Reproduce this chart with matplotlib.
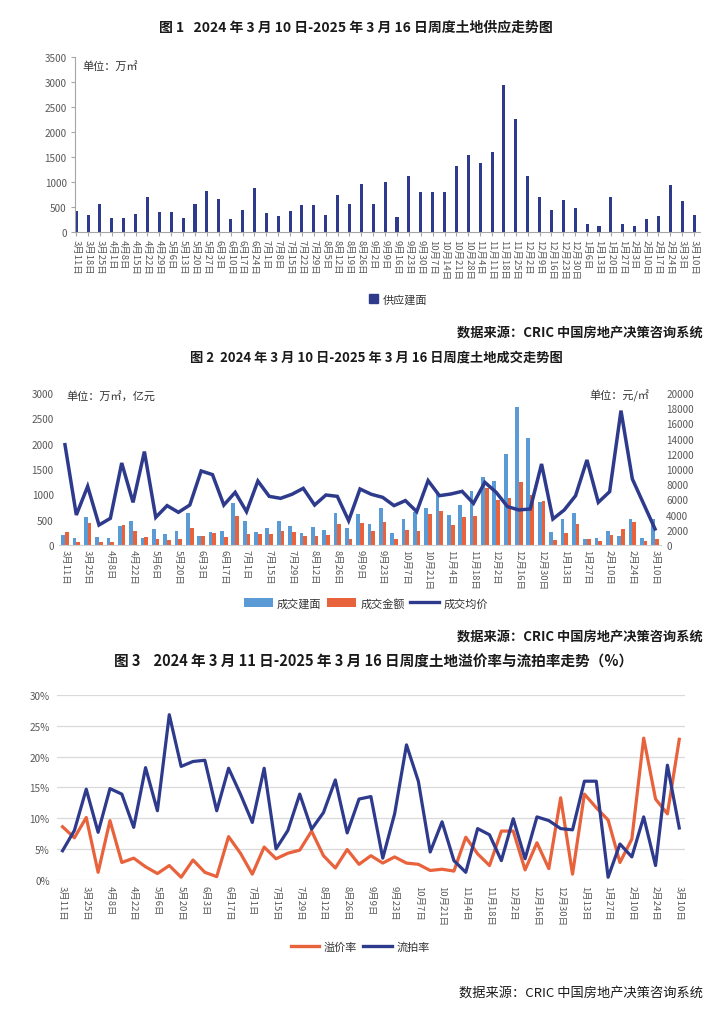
import matplotlib
matplotlib.use("Agg")
import matplotlib.pyplot as plt
from matplotlib.patches import Patch
from matplotlib.lines import Line2D
import numpy as np

plt.rcParams['font.family'] = ['Noto Sans CJK SC', 'DejaVu Sans']
plt.rcParams['axes.unicode_minus'] = False

# ---------------- data ----------------
weeks = ['3月11日', '3月18日', '3月25日', '4月1日', '4月8日', '4月15日', '4月22日', '4月29日',
         '5月6日', '5月13日', '5月20日', '5月27日', '6月3日', '6月10日', '6月17日', '6月24日',
         '7月1日', '7月8日', '7月15日', '7月22日', '7月29日', '8月5日', '8月12日', '8月19日',
         '8月26日', '9月2日', '9月9日', '9月16日', '9月23日', '9月30日', '10月7日', '10月14日',
         '10月21日', '10月28日', '11月4日', '11月11日', '11月18日', '11月25日', '12月2日',
         '12月9日', '12月16日', '12月23日', '12月30日', '1月6日', '1月13日', '1月20日',
         '1月27日', '2月3日', '2月10日', '2月17日', '2月24日', '3月3日', '3月10日']

supply_area = [414, 334, 568, 287, 287, 354, 695, 407, 394, 280, 561, 828, 655, 267, 448, 888,
               387, 327, 414, 541, 534, 334, 748, 568, 962, 568, 995, 294, 1116, 795, 808, 808,
               1316, 1550, 1383, 1610, 2946, 2251, 1129, 701, 448, 641, 474, 167, 114, 701, 160,
               127, 254, 314, 942, 628, 347]

deal_area = [197, 132, 559, 158, 145, 368, 474, 132, 316, 217, 276, 625, 184, 250, 283, 829,
             474, 250, 336, 467, 382, 243, 349, 303, 638, 329, 618, 421, 730, 237, 507, 658,
             730, 1000, 592, 796, 1059, 1349, 1270, 1802, 2718, 2105, 842, 263, 507, 638, 112,
             145, 283, 178, 513, 132, 513]

deal_amount = [250, 59, 428, 59, 59, 388, 270, 164, 118, 105, 118, 329, 184, 237, 158, 579,
               211, 211, 211, 276, 250, 178, 178, 204, 408, 112, 441, 270, 447, 125, 296, 276,
               612, 671, 395, 553, 566, 1119, 888, 928, 1244, 987, 875, 99, 237, 415, 112,
               79, 191, 309, 461, 72, 118]

deal_price = [13200, 3950, 7720, 2630, 3510, 10790, 5610, 12290, 3640, 5180, 4300, 5260, 9740,
              9260, 5260, 6930, 4390, 8420, 6400, 6140, 6670, 7460, 5260, 6580, 6400, 3200,
              7370, 6670, 6270, 5180, 5840, 4390, 8470, 6490, 6710, 7060, 5480, 8250, 6930,
              5050, 4610, 4740, 10660, 3420, 4610, 6490, 11190, 5610, 7020, 17680, 8690, 5400,
              2110]

premium_rate = [8.6, 6.8, 10.1, 1.2, 9.6, 2.8, 3.5, 2.1, 1.0, 2.3, 0.4, 3.2, 1.2, 0.5, 7.0, 4.3,
                0.9, 5.3, 3.4, 4.3, 4.8, 7.9, 3.9, 1.9, 4.9, 2.5, 3.9, 2.7, 3.7, 2.7, 2.5, 1.5,
                1.7, 1.4, 6.9, 4.2, 2.3, 7.9, 7.9, 1.6, 6.0, 1.8, 13.3, 0.9, 13.9, 11.7, 9.7,
                2.8, 6.6, 23.0, 13.1, 10.7, 22.8]

fail_rate = [4.7, 8.0, 14.7, 7.7, 14.8, 13.9, 8.5, 18.2, 11.2, 26.8, 18.4, 19.2, 19.4, 11.2,
             18.1, 13.9, 9.3, 18.1, 5.0, 8.0, 13.9, 8.2, 10.9, 16.2, 7.6, 13.1, 13.5, 3.5,
             10.7, 21.9, 16.0, 4.5, 9.4, 3.1, 1.2, 8.3, 7.3, 3.1, 9.9, 3.4, 10.2, 9.6, 8.3, 8.1,
             16.0, 16.0, 0.4, 5.8, 3.7, 10.2, 2.3, 18.6, 8.4]

title1 = '图 1   2024 年 3 月 10 日-2025 年 3 月 16 日周度土地供应走势图'
title2 = '图 2  2024 年 3 月 10 日-2025 年 3 月 16 日周度土地成交走势图'
title3 = '图 3    2024 年 3 月 11 日-2025 年 3 月 16 日周度土地溢价率与流拍率走势（%）'
source = '数据来源：CRIC 中国房地产决策咨询系统'

# ---------------- styles ----------------
W, H = 720, 1020
NAVY = '#2E3A8C'
LBLUE = '#5B9BD5'
ORANGE = '#E8623C'
TICKC = '#595959'
TXT = '#1a1a1a'
GRID = '#D9D9D9'

fig = plt.figure(figsize=(W / 100, H / 100), dpi=100)
fig.patch.set_facecolor('white')


def box(x0, y0, x1, y1):
    return [x0 / W, 1 - y1 / H, (x1 - x0) / W, (y1 - y0) / H]


def fx(v):
    return v / W


def fy(v):
    return 1 - v / H


x = np.arange(len(weeks))

# ================= Chart 1 =================
fig.text(fx(356), fy(28), title1, ha='center', va='center', fontsize=10,
         fontweight='semibold', color=TXT)

ax1 = fig.add_axes(box(75, 58, 700, 233))
ax1.bar(x, supply_area, width=0.26, color=NAVY)
ax1.set_xlim(-0.1, 52.5)
ax1.set_ylim(0, 3500)
ax1.set_yticks(np.arange(0, 3501, 500))
ax1.set_xticks(x)
ax1.set_xticklabels(weeks, rotation=-90, fontsize=6.8, color=TICKC)
for s in ['top', 'right']:
    ax1.spines[s].set_visible(False)
for s in ['left', 'bottom']:
    ax1.spines[s].set_color('#A6A6A6')
    ax1.spines[s].set_linewidth(0.8)
ax1.tick_params(axis='y', labelsize=7.2, labelcolor=TICKC, color='#A6A6A6', length=3, pad=3)
ax1.tick_params(axis='x', color='#A6A6A6', length=3, pad=2)
ax1.text(0.012, 0.95, '单位：万㎡', transform=ax1.transAxes, fontsize=8, color='#333333',
         ha='left', va='center')

fig.legend(handles=[Patch(facecolor=NAVY, edgecolor=NAVY)], labels=['供应建面'],
           loc='center', bbox_to_anchor=(fx(398), fy(300)), frameon=False, fontsize=8,
           handlelength=0.8, handleheight=0.8, handletextpad=0.4, labelcolor='#333333')

fig.text(fx(703), fy(333), source, ha='right', va='center',
         fontsize=9.5, fontweight='semibold', color=TXT)

# ================= Chart 2 =================
fig.text(fx(376), fy(357), title2, ha='center', va='center', fontsize=9.5,
         fontweight='semibold', color=TXT)

ax2 = fig.add_axes(box(59.3, 394, 660.7, 546))
bw = 0.33
ax2.bar(x - bw / 2, deal_area, width=bw, color=LBLUE, label='成交建面')
ax2.bar(x + bw / 2, deal_amount, width=bw, color=ORANGE, label='成交金额')
ax2.set_xlim(-0.5, 52.5)
ax2.set_ylim(0, 3000)
ax2.set_yticks(np.arange(0, 3001, 500))
ax2.set_xticks(x[::2])
ax2.set_xticklabels(weeks[::2], rotation=-90, fontsize=6.8, color=TICKC)
for s in ['top', 'right', 'left']:
    ax2.spines[s].set_visible(False)
ax2.spines['bottom'].set_color('#D0D0D0')
ax2.tick_params(axis='y', labelsize=7.2, labelcolor=TICKC, length=0, pad=4)
ax2.tick_params(axis='x', length=0, pad=3)

ax2r = ax2.twinx()
ax2r.plot(x, deal_price, color=NAVY, lw=2.5, solid_joinstyle='miter')
ax2r.set_ylim(0, 20000)
ax2r.set_yticks(np.arange(0, 20001, 2000))
for s in ['top', 'right', 'left', 'bottom']:
    ax2r.spines[s].set_visible(False)
ax2r.tick_params(axis='y', labelsize=7.2, labelcolor=TICKC, length=0, pad=4)

ax2.text(0.012, 0.985, '单位：万㎡，亿元', transform=ax2.transAxes, fontsize=8,
         color='#333333', ha='left', va='center')
ax2.text(0.982, 0.985, '单位：元/㎡', transform=ax2.transAxes, fontsize=8,
         color='#333333', ha='right', va='center')

fig.legend(handles=[Patch(facecolor=LBLUE), Patch(facecolor=ORANGE),
                    Line2D([0], [0], color=NAVY, lw=2.4)],
           labels=['成交建面', '成交金额', '成交均价'],
           loc='center', bbox_to_anchor=(fx(366), fy(604)), frameon=False, fontsize=8,
           ncol=3, handlelength=2.6, handleheight=0.8, handletextpad=0.4,
           columnspacing=0.5, labelcolor='#333333')

fig.text(fx(703), fy(637), source, ha='right', va='center',
         fontsize=9.5, fontweight='semibold', color=TXT)

# ================= Chart 3 =================
fig.text(fx(374), fy(662), title3, ha='center', va='center', fontsize=10.5,
         fontweight='semibold', color=TXT)

ax3 = fig.add_axes(box(56.6, 696, 685.2, 880.7))
ax3.plot(x, premium_rate, color=ORANGE, lw=2.3, label='溢价率')
ax3.plot(x, fail_rate, color=NAVY, lw=2.3, label='流拍率')
ax3.set_xlim(-0.5, 52.5)
ax3.set_ylim(0, 30)
ax3.set_yticks(np.arange(0, 31, 5))
ax3.set_yticklabels([f'{v}%' for v in range(0, 31, 5)])
ax3.set_xticks(x[::2])
ax3.set_xticklabels(weeks[::2], rotation=-90, fontsize=6.8, color=TICKC)
ax3.grid(axis='y', color=GRID, lw=0.9)
ax3.set_axisbelow(True)
for s in ['top', 'right', 'left', 'bottom']:
    ax3.spines[s].set_visible(False)
ax3.tick_params(axis='y', labelsize=7.2, labelcolor=TICKC, length=0, pad=5)
ax3.tick_params(axis='x', length=0, pad=4)

fig.legend(handles=[Line2D([0], [0], color=ORANGE, lw=2.4),
                    Line2D([0], [0], color=NAVY, lw=2.4)],
           labels=['溢价率', '流拍率'],
           loc='center', bbox_to_anchor=(fx(360), fy(948)), frameon=False, fontsize=8,
           ncol=2, handlelength=2.6, handletextpad=0.4, columnspacing=0.5,
           labelcolor='#333333')

fig.text(fx(703), fy(993), source, ha='right', va='center',
         fontsize=9.5, fontweight='normal', color=TXT)

fig.savefig('out.png', dpi=100, facecolor='white')
